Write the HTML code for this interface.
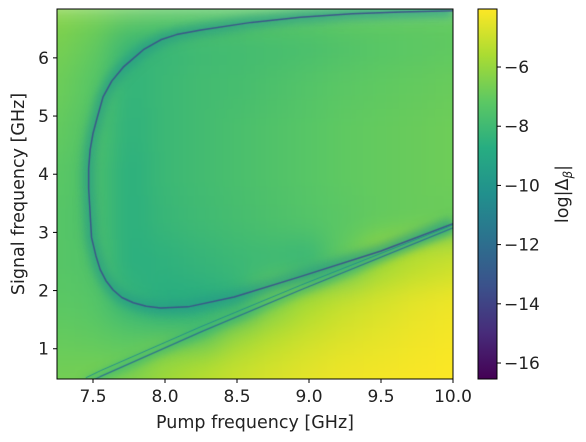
<!DOCTYPE html>
<html><head><meta charset="utf-8"><style>
html,body{margin:0;padding:0;background:#fff;width:586px;height:442px;overflow:hidden}
#wrap{position:relative;width:586px;height:442px}
canvas,svg{position:absolute;left:0;top:0}
text{font-family:"DejaVu Sans","Liberation Sans",sans-serif;fill:#222}
</style></head><body>
<div id="wrap">
<canvas id="heat" width="586" height="442"></canvas>
<svg id="svg" width="586" height="442"></svg>
</div>
<script>
// ---- data ----
const xCenters = [7.25,7.5,7.75,8.0,8.25,8.5,8.75,9.0,9.25,9.5,9.75,10.0];
const yCenters = [6.75,6.25,5.5,4.75,4.0,3.25,2.5,1.75,1.25,0.75,0.5];
const zRow0 = [-6.3,-6.6,-6.9,-7.1,-7.2,-7.2,-7.1,-7.1,-7.0,-7.0,-7.0,-7.0];
const zRow1 = [-6.6,-7.0,-8.2,-8.2,-8.0,-7.9,-7.8,-7.7,-7.5,-7.3,-7.2,-7.1];
const zRow2 = [-6.8,-7.3,-8.4,-8.1,-7.9,-7.8,-7.6,-7.4,-7.2,-7.1,-7.0,-6.9];
const zRow3 = [-7.0,-7.5,-8.5,-8.1,-7.9,-7.7,-7.5,-7.3,-7.1,-7.0,-6.9,-6.8];
const zRow4 = [-7.2,-7.6,-8.6,-8.1,-7.9,-7.7,-7.5,-7.3,-7.1,-7.0,-6.9,-6.8];
const zRow5 = [-7.3,-7.6,-8.6,-8.2,-8.0,-7.8,-7.6,-7.4,-7.2,-7.0,-6.9,-6.9];
const zRow6 = [-7.3,-7.5,-8.6,-8.5,-8.3,-8.1,-8.0,-8.2,-7.0,-5.8,-5.3,-5.0];
const zRow7 = [-7.2,-7.3,-8.3,-8.7,-8.7,-8.5,-6.5,-5.6,-5.1,-4.8,-4.5,-4.3];
const zRow8 = [-7.0,-7.1,-7.3,-7.5,-7.5,-6.0,-5.4,-5.0,-4.7,-4.5,-4.3,-4.2];
const zRow9 = [-6.8,-6.8,-6.9,-6.0,-5.6,-5.2,-4.9,-4.6,-4.4,-4.3,-4.2,-4.1];
const zRow10 = [-6.7,-6.6,-6.4,-5.8,-5.4,-5.0,-4.7,-4.5,-4.3,-4.2,-4.1,-4.05];
const zRows = [zRow0,zRow1,zRow2,zRow3,zRow4,zRow5,zRow6,zRow7,zRow8,zRow9,zRow10];
// minimum (dark) ridges
const loopX = [10.0,9.64,9.3,8.94,8.6,8.25,8.08,7.97,7.85,7.71,7.63,7.57,7.53,7.50,7.48,7.47,7.47,7.49,7.52,7.55,7.59,7.64,7.70,7.78,7.87,7.97,8.16,8.48,8.94,9.5,10.0];
const loopY = [6.81,6.79,6.76,6.70,6.61,6.48,6.40,6.31,6.14,5.84,5.60,5.33,4.98,4.70,4.42,4.10,3.75,2.91,2.60,2.36,2.17,2.01,1.88,1.79,1.73,1.70,1.72,1.89,2.24,2.68,3.15];
const lineX = [7.45,7.55,8.25,8.94,10.0];
const lineY = [0.40,0.52,1.29,2.01,3.08];
const line2Y = [0.50,0.62,1.38,2.09,3.13];
const xTicks = [7.5,8.0,8.5,9.0,9.5,10.0];
const xTickLabels = ["7.5","8.0","8.5","9.0","9.5","10.0"];
const yTicks = [1,2,3,4,5,6];
const cbTicks = [-6,-8,-10,-12,-14,-16];

// ---- axes ----
const PL=57,PR=453,PT=9,PB=379, XMIN=7.25,XMAX=10.0,YMIN=0.48,YMAX=6.84;
const CBL=478,CBR=497, ZMIN=-16.54, ZMAX=-4.04;
const sx=v=>PL+(v-XMIN)/(XMAX-XMIN)*(PR-PL);
const sy=v=>PB-(v-YMIN)/(YMAX-YMIN)*(PB-PT);
const sz=v=>PB-(v-ZMIN)/(ZMAX-ZMIN)*(PB-PT);
const VIR=[[68,1,84],[71,44,122],[59,81,139],[44,113,142],[33,144,141],[39,173,129],[92,200,99],[170,220,50],[253,231,37]];
function cmap(z){let t=(z-ZMIN)/(ZMAX-ZMIN);t=Math.max(0,Math.min(1,t));const f=t*8,i=Math.min(7,Math.floor(f)),u=f-i;
 const a=VIR[i],b=VIR[i+1];return `rgb(${a.map((c,k)=>Math.round(c+(b[k]-c)*u)).join(',')})`;}

// ---- heatmap ----
const off=document.createElement('canvas');off.width=586;off.height=442;
const oc=off.getContext('2d');
function pixBounds(arr,s){const p=arr.map(s);const asc=p[p.length-1]>p[0];const out=[];
 for(let i=0;i<p.length;i++){let a=i===0?null:(p[i-1]+p[i])/2;let b=i===p.length-1?null:(p[i]+p[i+1])/2;
  if(a===null)a=asc?-50:700; if(b===null)b=asc?700:-50; out.push([Math.min(a,b),Math.max(a,b)]);}
 return out;}
const xb=pixBounds(xCenters,sx), yb=pixBounds(yCenters,sy);
for(let r=0;r<yCenters.length;r++){for(let c=0;c<xCenters.length;c++){
  oc.fillStyle=cmap(zRows[r][c]);oc.fillRect(xb[c][0],yb[r][0],xb[c][1]-xb[c][0]+1,yb[r][1]-yb[r][0]+1);}}
const ctx=document.getElementById('heat').getContext('2d');
ctx.save();ctx.beginPath();ctx.rect(PL,PT,PR-PL,PB-PT);ctx.clip();
ctx.filter='blur(14px)';ctx.drawImage(off,0,0);ctx.filter='none';
function path(xs,ys){ctx.beginPath();xs.forEach((x,i)=>{i?ctx.lineTo(sx(x),sy(ys[i])):ctx.moveTo(sx(x),sy(ys[i]));});}
ctx.filter='blur(5px)';ctx.lineJoin='round';
path(loopX,loopY);ctx.strokeStyle=cmap(-9.8);ctx.globalAlpha=0.7;ctx.lineWidth=12;ctx.stroke();
path(lineX,lineY);ctx.strokeStyle=cmap(-8.8);ctx.lineWidth=7;ctx.stroke();
ctx.filter='none';ctx.globalAlpha=0.9;
path(loopX,loopY);ctx.strokeStyle=cmap(-13.5);ctx.lineWidth=1.5;ctx.stroke();
path(lineX,lineY);ctx.strokeStyle=cmap(-12);ctx.lineWidth=1.2;ctx.stroke();
path(lineX,line2Y);ctx.strokeStyle=cmap(-10.5);ctx.lineWidth=1;ctx.stroke();
ctx.restore();

// ---- svg overlay ----
const NS='http://www.w3.org/2000/svg',svg=document.getElementById('svg');
function el(t,a,p){const e=document.createElementNS(NS,t);for(const k in a)e.setAttribute(k,a[k]);(p||svg).appendChild(e);return e;}
const frame=el('rect',{x:PL,y:PT,width:PR-PL,height:PB-PT,fill:'none',stroke:'#000','stroke-width':1});


xTicks.forEach((v,i)=>{el('line',{x1:sx(v),x2:sx(v),y1:PB,y2:PB+4,stroke:'#000'});
 const t=el('text',{x:sx(v),y:PB+23,'text-anchor':'middle','font-size':17});t.textContent=xTickLabels[i];
 
 });
yTicks.forEach(v=>{el('line',{x1:PL-4,x2:PL,y1:sy(v),y2:sy(v),stroke:'#000'});
 const t=el('text',{x:PL-8,y:sy(v)+6,'text-anchor':'end','font-size':17});t.textContent=String(v);
 
 });
const xl=el('text',{x:(PL+PR)/2,y:428,'text-anchor':'middle','font-size':17.5});xl.textContent='Pump frequency [GHz]';


const yl=el('text',{x:0,y:0,'text-anchor':'middle','font-size':17.5,transform:`translate(24,${(PT+PB)/2}) rotate(-90)`});yl.textContent='Signal frequency [GHz]';


// colorbar
const defs=el('defs',{});const g=el('linearGradient',{id:'vg',x1:0,y1:1,x2:0,y2:0},defs);
VIR.forEach((c,i)=>el('stop',{offset:i/8,'stop-color':`rgb(${c})`},g));
const cb=el('rect',{x:CBL,y:PT,width:CBR-CBL,height:PB-PT,fill:'url(#vg)',stroke:'#000','stroke-width':1});


cbTicks.forEach(v=>{el('line',{x1:CBR,x2:CBR+4,y1:sz(v),y2:sz(v),stroke:'#000'});
 const t=el('text',{x:CBR+7,y:sz(v)+6,'font-size':17});t.textContent='\u2212'+Math.abs(v);
 
 });
const cl=el('text',{x:0,y:0,'text-anchor':'middle','font-size':17.5,transform:`translate(568,${(PT+PB)/2}) rotate(-90)`});
cl.innerHTML='log|Δ<tspan font-size="12" dy="4" font-style="italic">β</tspan><tspan dy="-4">|</tspan>';


</script>
</body></html>
